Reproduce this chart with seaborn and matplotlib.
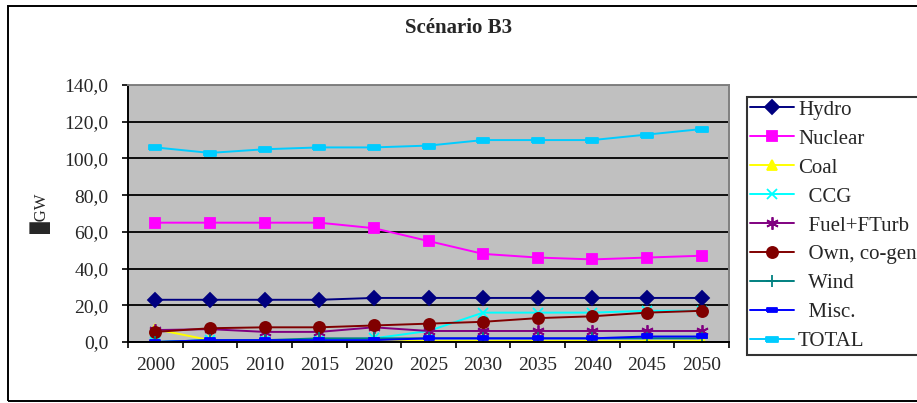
import numpy as np
import seaborn as sns
import matplotlib.pyplot as plt
from matplotlib.ticker import FuncFormatter, FixedLocator
from matplotlib.patches import Rectangle

sns.set_style('white')
plt.rcParams['font.family'] = ['Liberation Serif', 'DejaVu Serif', 'DejaVu Sans']

years = ['2000', '2005', '2010', '2015', '2020', '2025', '2030', '2035', '2040', '2045', '2050']
hydro = [23, 23, 23, 23, 24, 24, 24, 24, 24, 24, 24]
nuclear = [65, 65, 65, 65, 62, 55, 48, 46, 45, 46, 47]
coal = [7, 1, 0.5, 0.5, 0.5, 0.5, 0.5, 0.5, 0.5, 0.5, 0.5]
ccg = [0, 1, 1, 1, 2, 6, 16, 16, 16, 17, 17]
fuel = [6.5, 7, 5.5, 5.5, 8, 6, 6, 6, 6, 6, 6]
owncogen = [5.5, 7.5, 8, 8, 9, 10, 11, 13, 14, 16, 17]
wind = [0, 1, 1, 2, 2, 2, 2, 2, 2, 2, 2]
misc = [0, 1, 1, 1, 1, 2, 2, 2, 2, 3, 3]
total = [106, 103, 105, 106, 106, 107, 110, 110, 110, 113, 116]

rect_marker = [(-1, -0.45), (1, -0.45), (1, 0.45), (-1, 0.45), (-1, -0.45)]

series = [
    ('Hydro', hydro, '#000080', 'D', 7),
    ('Nuclear', nuclear, '#FF00FF', 's', 7),
    ('Coal', coal, '#FFFF00', '^', 7),
    ('  CCG', ccg, '#00FFFF', 'x', 7),
    ('  Fuel+FTurb', fuel, '#800080', (6, 2, 0), 9),
    ('  Own, co-gen', owncogen, '#800000', 'o', 8),
    ('  Wind', wind, '#008080', '+', 9),
    ('  Misc.', misc, '#0000FF', rect_marker, 7),
    ('TOTAL', total, '#00CCFF', rect_marker, 8),
]

fig = plt.figure(figsize=(9.17, 4.03), dpi=100)
fig.patches.append(Rectangle((7.5 / 917, 2 / 403), 1.0, 395.5 / 403, transform=fig.transFigure,
                             fill=False, edgecolor='black', linewidth=1.4))
ax = fig.add_axes([128 / 917, 61 / 403, 601 / 917, 257 / 403])
ax.set_facecolor('#C0C0C0')

x = np.arange(len(years))
for name, vals, color, marker, ms in series:
    sns.lineplot(x=x, y=vals, ax=ax, color=color, marker=marker, markersize=ms,
                 markeredgecolor=color, markerfacecolor=color, markeredgewidth=1.3,
                 linewidth=1.4, label=name)

ax.set_xlim(-0.5, len(years) - 0.5)
ax.set_ylim(0, 140)
ax.set_yticks(np.arange(0, 141, 20))
ax.yaxis.set_major_formatter(FuncFormatter(lambda v, p: f'{v:.1f}'.replace('.', ',')))
ax.grid(axis='y', color='black', linewidth=1.3)
ax.set_axisbelow(True)

ax.xaxis.set_major_locator(FixedLocator(np.arange(-0.5, len(years), 1)))
ax.xaxis.set_major_formatter(FuncFormatter(lambda v, p: ''))
ax.xaxis.set_minor_locator(FixedLocator(x))
ax.set_xticklabels(years, minor=True)
ax.tick_params(axis='x', which='major', direction='out', length=4, width=1.2, color='black', bottom=True)
ax.tick_params(axis='x', which='minor', length=0, labelsize=14, pad=11)
ax.tick_params(axis='y', direction='out', length=4, width=1.2, color='black', left=True,
               labelsize=14, pad=10)

for s in ['left', 'bottom']:
    ax.spines[s].set_color('black')
    ax.spines[s].set_linewidth(1.4)
for s in ['top', 'right']:
    ax.spines[s].set_color('#808080')
    ax.spines[s].set_linewidth(1.4)

ax.set_xlabel('')
ax.set_ylabel('\u2588GW', fontsize=12, labelpad=10)

fig.text(459 / 917, 1 - 33 / 403, 'Scénario B3', ha='center', va='baseline',
         fontsize=15, fontweight='bold')

leg = ax.legend(loc='upper left', bbox_to_anchor=(747 / 917, 1 - 97 / 403),
                bbox_transform=fig.transFigure, frameon=True, fancybox=False,
                edgecolor='black', fontsize=15, handlelength=2.1, handletextpad=0.2,
                labelspacing=0.45, borderpad=0.15, borderaxespad=0)
leg.get_frame().set_linewidth(1.5)
leg.get_frame().set_facecolor('white')

fig.savefig('out.png', dpi=100)
